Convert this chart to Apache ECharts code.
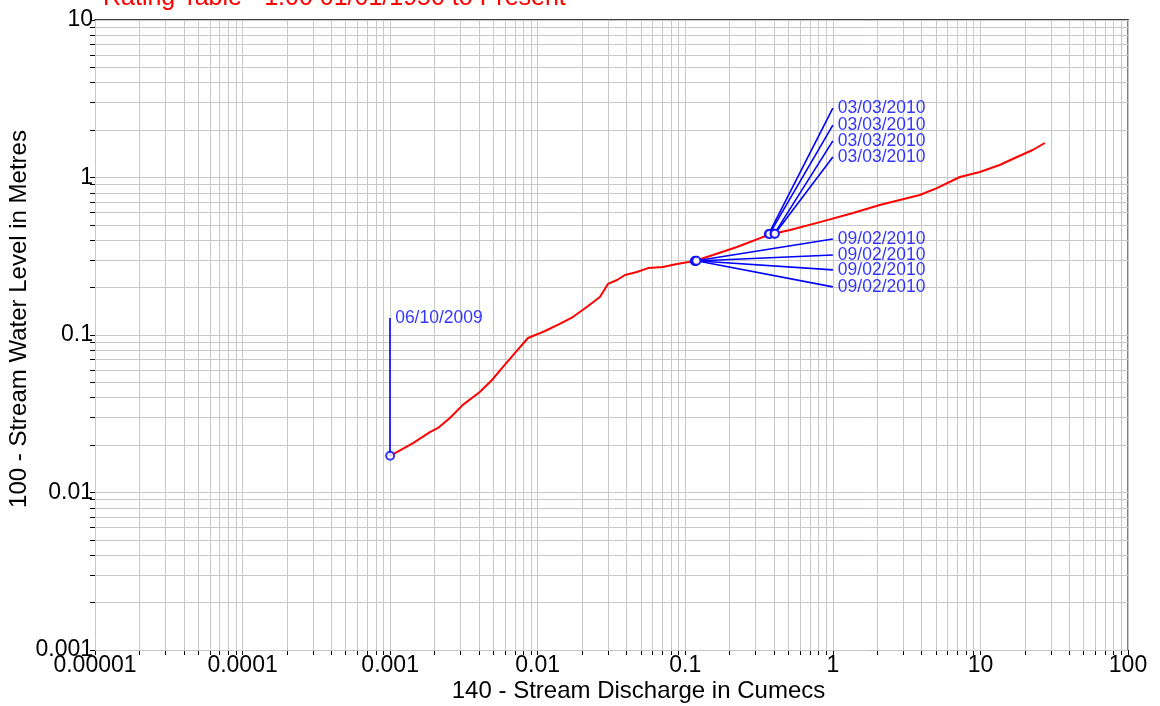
<!DOCTYPE html>
<html>
<head>
<meta charset="utf-8">
<title>Rating Table</title>
<script src="https://cdn.jsdelivr.net/npm/echarts@6/dist/echarts.min.js"></script>
<style>
  html, body { margin: 0; padding: 0; background: #fff; }
  #chart { width: 1160px; height: 706px; }
</style>
</head>
<body>
<div id="chart"></div>
<script>
// rating curve (discharge in cumecs, level in metres)
const ratingQ = [0.001, 0.00143, 0.00186, 0.00211, 0.00254, 0.00311, 0.00405, 0.0049, 0.0058, 0.00702,
  0.00859, 0.01, 0.0112, 0.0141, 0.0173, 0.0215, 0.0264, 0.0299, 0.0345, 0.039,
  0.047, 0.0559, 0.0705, 0.0877, 0.116, 0.154, 0.224, 0.363, 0.512, 0.817,
  1.37, 2.08, 2.84, 3.88, 5.07, 7.25, 9.9, 13.5, 17.7, 22.6, 27.3]
const ratingH = [0.0171, 0.0206, 0.0242, 0.0257, 0.0297, 0.036, 0.0435, 0.0518, 0.0626, 0.0769,
  0.0957, 0.1014, 0.106, 0.1175, 0.13, 0.1506, 0.1743, 0.211, 0.2234, 0.2404,
  0.251, 0.266, 0.27, 0.2824, 0.295, 0.322, 0.362, 0.431, 0.464, 0.521,
  0.595, 0.669, 0.72, 0.774, 0.857, 1.007, 1.084, 1.2, 1.35, 1.495, 1.656]

// gaugings and where their date labels sit
const gaugeDate = ['06/10/2009', '09/02/2010', '09/02/2010', '09/02/2010', '09/02/2010',
  '03/03/2010', '03/03/2010', '03/03/2010', '03/03/2010']
const gaugeQ = [0.001, 0.116, 0.117, 0.118, 0.119, 0.368, 0.372, 0.402, 0.405]
const gaugeH = [0.0171, 0.295, 0.295, 0.296, 0.296, 0.438, 0.438, 0.44, 0.44]
const labelQ = [0.001, 1, 1, 1, 1, 1, 1, 1, 1]
const labelH = [0.128, 0.407, 0.322, 0.259, 0.202, 2.76, 2.15, 1.71, 1.35]

// tick labels (one per decade)
const xTickLabels = ['0.00001', '0.0001', '0.001', '0.01', '0.1', '1', '10', '100']
const yTickLabels = ['0.001', '0.01', '0.1', '1', '10']

const FONT = 'Liberation Sans, Arial, sans-serif'
const GRID = '#c8c8c8'

// decade values plus the 2..9 steps inside each decade
function decades(labels) {
  return labels.map(s => Number(s))
}
function logSteps(labels) {
  const major = decades(labels)
  const out = []
  major.forEach((d, i) => {
    out.push(d)
    if (i < major.length - 1) {
      for (let k = 2; k <= 9; k++) out.push(Number((k * d).toPrecision(6)))
    }
  })
  return out
}

const chart = echarts.init(document.getElementById('chart'))

function logAxis(labels, extra) {
  return Object.assign({
    type: 'log',
    logBase: 10,
    interval: 1,
    min: Number(labels[0]),
    max: Number(labels[labels.length - 1]),
    nameMoveOverlap: false,
    splitLine: { show: false },
    axisTick: { show: true, length: 5, customValues: logSteps(labels), lineStyle: { color: '#000' } },
    axisLine: { show: true, onZero: false, lineStyle: { color: '#000', width: 1 } }
  }, extra)
}

// grid lines at every 1..9 step, placed through the axes
const gridLines = logSteps(xTickLabels).map(v => ({ xAxis: v }))
  .concat(logSteps(yTickLabels).map(v => ({ yAxis: v })))

chart.setOption({
  animation: false,
  title: {
    text: 'Rating Table - 1.00 01/01/1950 to Present',
    left: 98,
    top: -19,
    textStyle: { color: '#ff0000', fontFamily: FONT, fontSize: 25, fontWeight: 'normal' }
  },
  grid: { left: 95, top: 20, right: 32, bottom: 56, outerBoundsMode: 'none', containLabel: false },
  xAxis: [
    logAxis(xTickLabels, {
      position: 'bottom',
      name: '140 - Stream Discharge in Cumecs',
      nameLocation: 'middle',
      nameGap: 29,
      nameTextStyle: { color: '#000', fontFamily: FONT, fontSize: 24, padding: [0, 0, 0, 54] },
      axisLabel: {
        color: '#000', fontFamily: FONT, fontSize: 23, margin: 4,
        customValues: decades(xTickLabels),
        formatter: v => xTickLabels[Math.round(Math.log10(v)) + 5]
      }
    }),
    {
      type: 'log', logBase: 10, min: 0.00001, max: 100, position: 'top',
      axisLine: { show: true, onZero: false, lineStyle: { color: '#000', width: 1.5 } },
      axisTick: { show: false }, axisLabel: { show: false }, splitLine: { show: false }
    }
  ],
  yAxis: [
    logAxis(yTickLabels, {
      position: 'left',
      name: '100 - Stream Water Level in Metres',
      nameLocation: 'middle',
      nameGap: 64,
      nameTextStyle: { color: '#000', fontFamily: FONT, fontSize: 24, padding: [0, 0, 0, 32] },
      axisLabel: {
        color: '#000', fontFamily: FONT, fontSize: 23, margin: 2,
        customValues: decades(yTickLabels),
        formatter: v => yTickLabels[Math.round(Math.log10(v)) + 3]
      }
    }),
    {
      type: 'log', logBase: 10, min: 0.001, max: 10, position: 'right',
      axisLine: { show: true, onZero: false, lineStyle: { color: '#808080', width: 2 } },
      axisTick: { show: false }, axisLabel: { show: false }, splitLine: { show: false }
    }
  ],
  series: [
    {
      name: 'Grid',
      type: 'line',
      data: [],
      silent: true,
      z: 1,
      markLine: {
        silent: true,
        z: 1,
        precision: 10,
        symbol: ['none', 'none'],
        label: { show: false },
        lineStyle: { color: GRID, width: 1, type: 'solid' },
        emphasis: { disabled: true },
        data: gridLines
      }
    },
    {
      name: 'Rating',
      type: 'line',
      data: ratingQ.map((q, i) => [q, ratingH[i]]),
      showSymbol: false,
      symbol: 'none',
      lineStyle: { color: '#ff0000', width: 2 },
      z: 3
    },
    {
      name: 'Leaders',
      type: 'lines',
      coordinateSystem: 'cartesian2d',
      data: gaugeQ.map((q, i) => ({ coords: [[q, gaugeH[i]], [labelQ[i], labelH[i]]] })),
      lineStyle: { color: '#0000ff', width: 1.6, opacity: 1 },
      z: 4
    },
    {
      name: 'Gaugings',
      type: 'scatter',
      data: gaugeQ.map((q, i) => [q, gaugeH[i]]),
      symbol: 'circle',
      symbolSize: 8,
      itemStyle: { color: '#ffffff', borderColor: '#0000ff', borderWidth: 2 },
      z: 5
    },
    {
      name: 'Dates',
      type: 'scatter',
      data: labelQ.map((q, i) => ({ value: [q, labelH[i]], name: gaugeDate[i] })),
      symbolSize: 0,
      label: {
        show: true,
        position: 'right',
        distance: 5,
        formatter: p => p.name,
        color: '#0000ff',
        fontFamily: FONT,
        fontSize: 17.5
      },
      z: 6
    }
  ]
})
</script>
</body>
</html>
